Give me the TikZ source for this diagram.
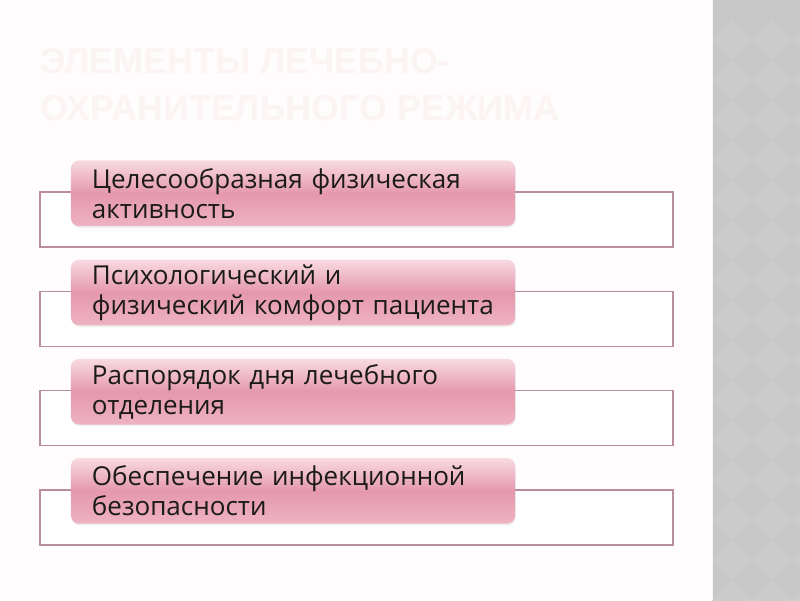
\documentclass[tikz,border=0pt]{standalone}
\usepackage{fontspec}
\setmainfont{Open Sans}
\newfontfamily\headfont{Liberation Sans}
\usepackage{tikz}
\usetikzlibrary{shadows}

\definecolor{pagetint}{HTML}{FEFCFC}
\definecolor{framepink}{HTML}{B98CA0}
\definecolor{boxtop}{HTML}{F8DAE1}
\definecolor{boxmid}{HTML}{E598AD}
\definecolor{boxbot}{HTML}{EEB3C2}
\definecolor{sidegray}{HTML}{C7C7C7}
\definecolor{sidelight}{HTML}{CBCBCB}
\definecolor{headtint}{HTML}{FBF4F2}
\definecolor{inktext}{HTML}{1A1A1A}

\begin{document}
\begin{tikzpicture}[x=0.025cm, y=-0.025cm,
  frame/.style={draw=framepink, line width=0.9pt, fill=white,
    minimum width=15.825cm, minimum height=1.375cm, inner sep=0pt},
  item/.style={rounded corners=0.2cm, top color=boxtop, bottom color=boxbot,
    middle color=boxmid, drop shadow={opacity=0.12, shadow xshift=0.6pt, shadow yshift=-1.2pt},
    minimum width=11.1cm, minimum height=1.64cm, text width=10.05cm, inner xsep=0.525cm,
    align=left, text=inktext, font=\fontsize{18.5}{21.3}\selectfont}]
  \useasboundingbox (0,0) rectangle (800,600);
  \fill[pagetint] (0,0) rectangle (800,600);
  % grey strip on the right
  \begin{scope}
    \clip (712,0) rectangle (800,600);
    \fill[sidegray] (712,0) rectangle (800,600);
    \foreach \r in {0,...,15}
      \foreach \c in {0,...,2}
        \fill[sidelight] (732+\c*40, 20+\r*40) -- ++(20,20) -- ++(-20,20) -- ++(-20,-20) -- cycle;
  \end{scope}
  \draw[white!80!sidegray, line width=0.8pt] (712.5,0) -- (712.5,600);

  \node[anchor=base west, text=headtint, font=\headfont\bfseries\fontsize{25.5}{30}\selectfont, inner sep=0pt] (head1) at (40,73) {ЭЛЕМЕНТЫ ЛЕЧЕБНО-};
  \node[anchor=base west, text=headtint, font=\headfont\bfseries\fontsize{25.5}{30}\selectfont, inner sep=0pt] (head2) at (40,120) {ОХРАНИТЕЛЬНОГО РЕЖИМА};

  \node[frame] (frame1) at (356.5,219.5) {};
  \node[frame] (frame2) at (356.5,318.8) {};
  \node[frame] (frame3) at (356.5,418.1) {};
  \node[frame] (frame4) at (356.5,517.4) {};

  \node[item] (activity) at (293,193.3) {Целесообразная физическая\\активность};
  \node[item] (comfort) at (293,292.5) {Психологический и\\физический комфорт пациента};
  \node[item] (routine) at (293,391.7) {Распорядок дня лечебного\\отделения};
  \node[item] (safety) at (293,490.9) {Обеспечение инфекционной\\безопасности};
\end{tikzpicture}
\end{document}
